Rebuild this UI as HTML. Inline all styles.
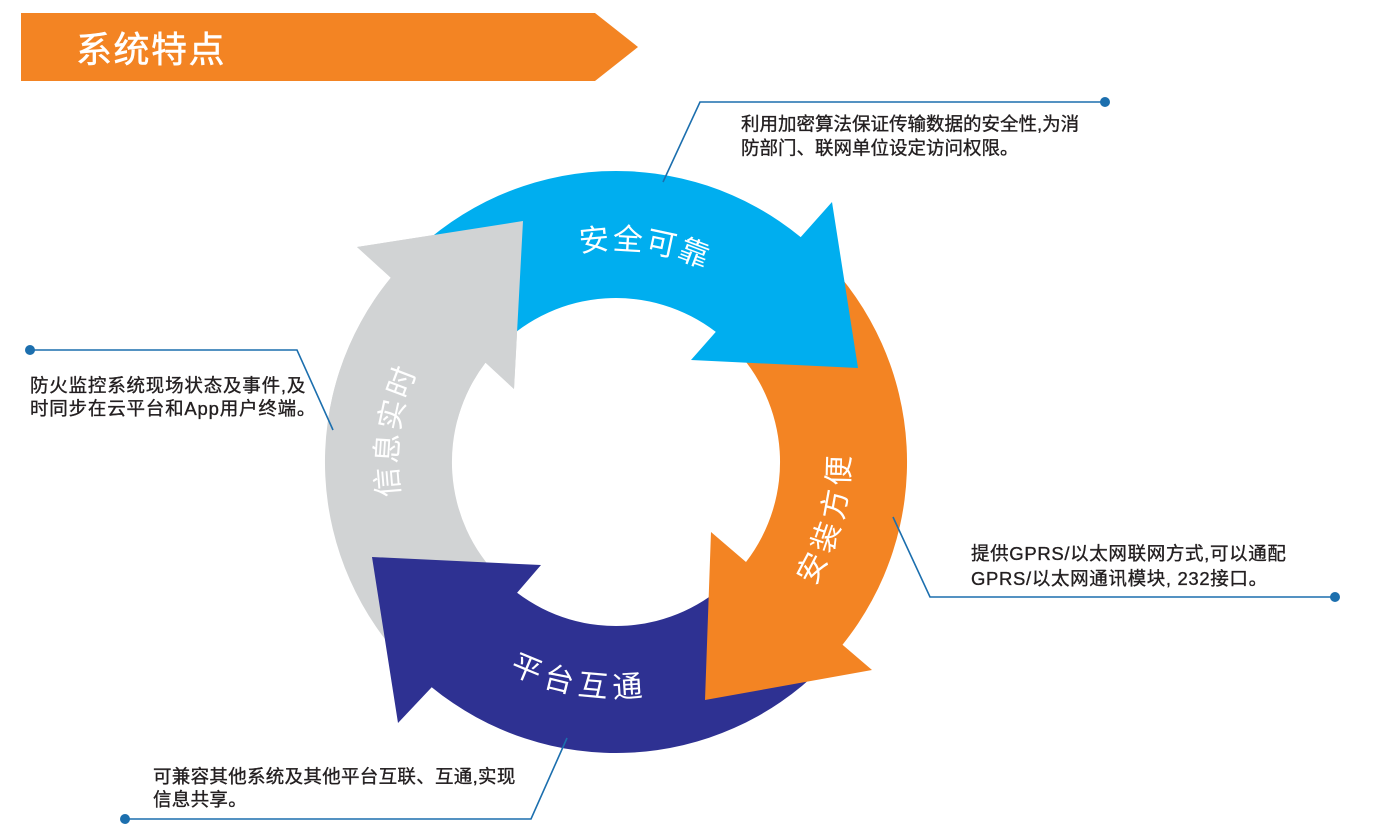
<!DOCTYPE html>
<html>
<head>
<meta charset="utf-8">
<style>
  html, body { margin:0; padding:0; background:#ffffff; }
  body { width:1382px; height:836px; overflow:hidden; }
  svg { display:block; }
  .t { font-family: "Liberation Sans", "Noto Sans CJK SC", sans-serif; }
</style>
</head>
<body>
<svg width="1382" height="836" viewBox="0 0 1382 836" xmlns="http://www.w3.org/2000/svg">
  <defs>
    <clipPath id="grayHeadClip">
      <rect x="0" y="0" width="540" height="420"/>
    </clipPath>
    <path id="arcTop" d="M 487.2 292.9 A 212.6 212.6 0 0 1 785.1 333.2"/>
    <path id="arcRight" d="M 734.1 663.3 A 233.4 233.4 0 0 0 817.3 343.9"/>
    <path id="arcBottom" d="M 424.4 598.7 A 235.4 235.4 0 0 0 752.7 653.6"/>
    <path id="arcLeft" d="M 441.4 593.6 A 218.6 218.6 0 0 1 484.4 287.4"/>
  </defs>

  <!-- Title banner -->
  <polygon points="21,13 595,13 638,47 595,81 21,81" fill="#f38423"/>
  <text class="t" x="76" y="62" font-size="36" fill="#ffffff" stroke="#ffffff" stroke-width="0.5" letter-spacing="1.5">系统特点</text>

  <!-- Gray arrow (信息实时) -->
  <path d="M 410.2 667.8 A 291 291 0 0 1 390.8 277.7 L 357 247 L 523 221 L 514 389 L 485.5 362.6 A 164 164 0 0 0 500 578 Z" fill="#d1d3d4"/>
  <!-- Dark blue arrow (平台互通) -->
  <path d="M 821.8 667.8 A 291 291 0 0 1 431.7 687.2 L 398 723 L 372 557 L 541 565 L 517.1 592.8 A 164 164 0 0 0 732 578 Z" fill="#2e3192"/>
  <!-- Orange arrow (安装方便) -->
  <path d="M 821.8 256.2 A 291 291 0 0 1 842.5 644.7 L 872 670 L 705 700 L 711 532 L 746 562 A 164 164 0 0 0 732 346 Z" fill="#f38423"/>
  <!-- Blue arrow (安全可靠) -->
  <path d="M 410.2 256.2 A 291 291 0 0 1 800.7 237.1 L 832 202 L 858 368 L 691 360 L 715.8 331.9 A 164 164 0 0 0 500 346 Z" fill="#00aeef"/>
  <!-- Gray arrow head repaint over blue tail -->
  <path d="M 410.2 667.8 A 291 291 0 0 1 390.8 277.7 L 357 247 L 523 221 L 514 389 L 485.5 362.6 A 164 164 0 0 0 500 578 Z" fill="#d1d3d4" clip-path="url(#grayHeadClip)"/>

  <!-- Ring labels -->
  <text class="t" font-size="30" fill="#ffffff" letter-spacing="2.3" text-anchor="middle">
    <textPath href="#arcTop" startOffset="50%">安全可靠</textPath>
  </text>
  <text class="t" font-size="30" fill="#ffffff" letter-spacing="5.6" text-anchor="middle">
    <textPath href="#arcRight" startOffset="50%">安装方便</textPath>
  </text>
  <text class="t" font-size="30" fill="#ffffff" letter-spacing="6" text-anchor="middle">
    <textPath href="#arcBottom" startOffset="50%">平台互通</textPath>
  </text>
  <text class="t" font-size="30" fill="#ffffff" letter-spacing="2.4" text-anchor="middle">
    <textPath href="#arcLeft" startOffset="50%">信息实时</textPath>
  </text>

  <!-- Connectors -->
  <g fill="none" stroke="#1c6fae" stroke-width="1.6">
    <polyline points="663,182 700,102 1105,102"/>
    <polyline points="30,350 297,350 333,430"/>
    <polyline points="893,517 930,597 1335,597"/>
    <polyline points="125,819 531,819 567,738"/>
  </g>
  <g fill="#1c6fae">
    <circle cx="1105" cy="102" r="5"/>
    <circle cx="30" cy="350" r="5"/>
    <circle cx="1335" cy="597" r="5"/>
    <circle cx="125" cy="819" r="5"/>
  </g>

  <!-- Descriptions -->
  <g class="t" font-size="18.5" fill="#231f20" stroke="#231f20" stroke-width="0.35">
    <text x="741" y="130.5">利用加密算法保证传输数据的安全性,为消</text>
    <text x="741" y="154.5">防部门、联网单位设定访问权限。</text>

    <text x="30" y="392" letter-spacing="0.8">防火监控系统现场状态及事件,及</text>
    <text x="30" y="415" letter-spacing="0.8">时同步在云平台和App用户终端。</text>

    <text x="971" y="560" letter-spacing="0.65">提供GPRS/以太网联网方式,可以通配</text>
    <text x="971" y="585" letter-spacing="0.65">GPRS/以太网通讯模块, 232接口。</text>

    <text x="153" y="783" letter-spacing="0.3">可兼容其他系统及其他平台互联、互通,实现</text>
    <text x="153" y="806" letter-spacing="0.3">信息共享。</text>
  </g>
</svg>
</body>
</html>
